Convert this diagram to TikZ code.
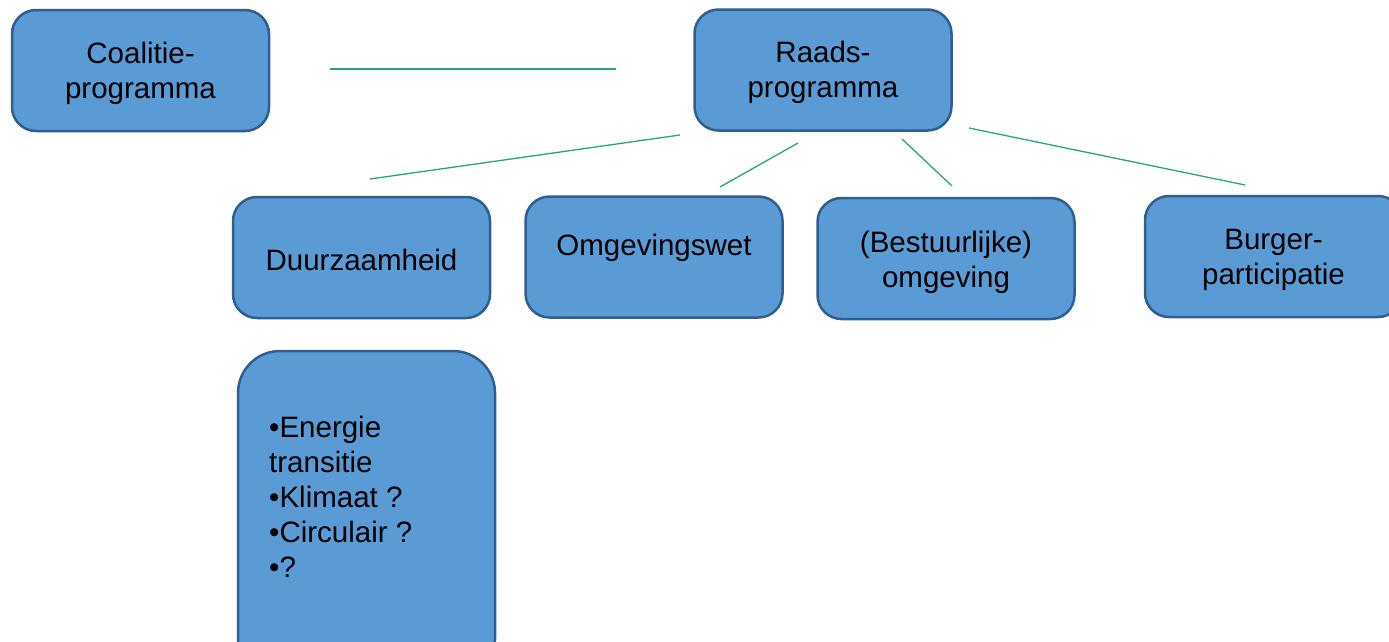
\documentclass[tikz,border=0pt]{standalone}
\usepackage{fontspec}
\setmainfont{Liberation Sans}
\definecolor{boxfill}{HTML}{5B9BD5}
\definecolor{boxline}{HTML}{2F5F8F}
\definecolor{conn}{RGB}{40,165,125}
\tikzset{
  box/.style={draw=boxline, fill=boxfill, line width=2.5pt, rounded corners=24pt,
    minimum width=257pt, minimum height=121pt, inner sep=0pt},
  bigbox/.style={box, rounded corners=42pt},
  txt/.style={align=center, inner sep=0pt, font=\fontsize{29.5}{35}\selectfont},
  ltxt/.style={align=left, inner sep=0pt, font=\fontsize{29.5}{35}\selectfont},
  conline/.style={draw=conn, line width=1.3pt},
}
\begin{document}
\begin{tikzpicture}[x=1pt,y=-1pt]
\useasboundingbox (0,0) rectangle (1389,641);
\clip (0,0) rectangle (1389,641);
% boxes
\node[box] (coal) at (140.5,70.5) {};
\node[box] (raad) at (823,70) {};
\node[box] (duur) at (361.5,257.5) {};
\node[box] (omg) at (654,257) {};
\node[box] (best) at (946,258.5) {};
\node[box] (burg) at (1273.5,256.5) {};
\node[bigbox, minimum height=330pt] (bul) at (366.5,516) {};
% texts
\node[txt] (coalt) at (140.5,73) {Coalitie-\\programma};
\node[txt] (raadt) at (823,72.5) {Raads-\\programma};
\node[txt] (duurt) at (361.5,260) {Duurzaamheid};
\node[txt] (omgt) at (654,248) {Omgevingswet};
\node[txt] (bestt) at (946,262.5) {(Bestuurlijke)\\omgeving};
\node[txt] (burgt) at (1273.5,260) {Burger-\\participatie};
\node[ltxt, anchor=north west] (bult) at (269,416) {•Energie\\transitie\\•Klimaat ?\\•Circulair ?\\•?};
% connectors (free-floating, as in the reference)
\coordinate (c1a) at (330,69);  \coordinate (c1b) at (616,69);
\coordinate (c2a) at (370,179); \coordinate (c2b) at (680,135);
\coordinate (c3a) at (720,187); \coordinate (c3b) at (798,143);
\coordinate (c4a) at (902,139); \coordinate (c4b) at (952,186);
\coordinate (c5a) at (969,128); \coordinate (c5b) at (1245,185);
\draw[conline] (c1a) -- (c1b);
\draw[conline] (c2a) -- (c2b);
\draw[conline] (c3a) -- (c3b);
\draw[conline] (c4a) -- (c4b);
\draw[conline] (c5a) -- (c5b);
\end{tikzpicture}
\end{document}
